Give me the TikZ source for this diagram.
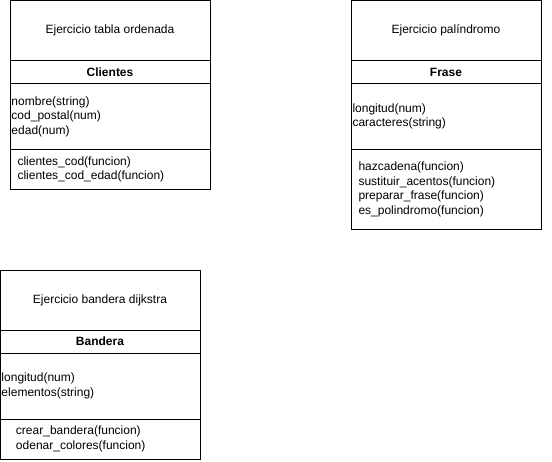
\documentclass[tikz,border=0pt]{standalone}
\usepackage{fontspec}
\setmainfont{Liberation Sans}
\usetikzlibrary{positioning}

\begin{document}
\begin{tikzpicture}[
  x=1pt, y=-1pt,
  node distance=0pt,
  line width=0.9pt,
  every node/.style={font=\fontsize{12}{14.5}\selectfont, outer sep=0pt},
  titlebox/.style={draw, minimum width=#1, minimum height=60pt, inner sep=0pt},
  namebox/.style={draw, minimum width=#1, minimum height=23pt, inner sep=0pt,
    font=\fontsize{12}{14.5}\selectfont\bfseries},
  attrbox/.style={draw, text width=#1, minimum height=66pt, inner xsep=1.5pt,
    inner ysep=0pt, align=left},
  methbox/.style={draw, text width=#1, inner xsep=7.5pt, inner ysep=0pt, align=left},
]
\useasboundingbox (0,0) rectangle (552,461);

% Ejercicio tabla ordenada
\node[titlebox=200pt, anchor=north west] (tabla) at (10,0.5) {Ejercicio tabla ordenada};
\node[namebox=200pt, below=of tabla] (clientes) {Clientes};
\node[attrbox=197pt, below=of clientes] (clientesattr)
  {nombre(string)\\cod\_postal(num)\\edad(num)};
\node[methbox=185pt, minimum height=40pt, below=of clientesattr] (clientesmeth)
  {clientes\_cod(funcion)\\clientes\_cod\_edad(funcion)};

% Ejercicio palindromo
\node[titlebox=190pt, anchor=north west] (palin) at (351,0.5) {Ejercicio palíndromo};
\node[namebox=190pt, below=of palin] (frase) {Frase};
\node[attrbox=187pt, below=of frase] (fraseattr)
  {longitud(num)\\caracteres(string)};
\node[methbox=175pt, minimum height=80pt, below=of fraseattr] (frasemeth)
  {hazcadena(funcion)\\sustituir\_acentos(funcion)\\preparar\_frase(funcion)\\es\_polindromo(funcion)};

% Ejercicio bandera dijkstra
\node[titlebox=200pt, anchor=north west] (dijkstra) at (0,270) {Ejercicio bandera dijkstra};
\node[namebox=200pt, below=of dijkstra] (bandera) {Bandera};
\node[attrbox=197pt, below=of bandera] (banderaattr)
  {longitud(num)\\elementos(string)};
\node[methbox=168pt, inner xsep=16pt, minimum height=40pt, below=of banderaattr] (banderameth)
  {crear\_bandera(funcion)\\odenar\_colores(funcion)};
\end{tikzpicture}
\end{document}
